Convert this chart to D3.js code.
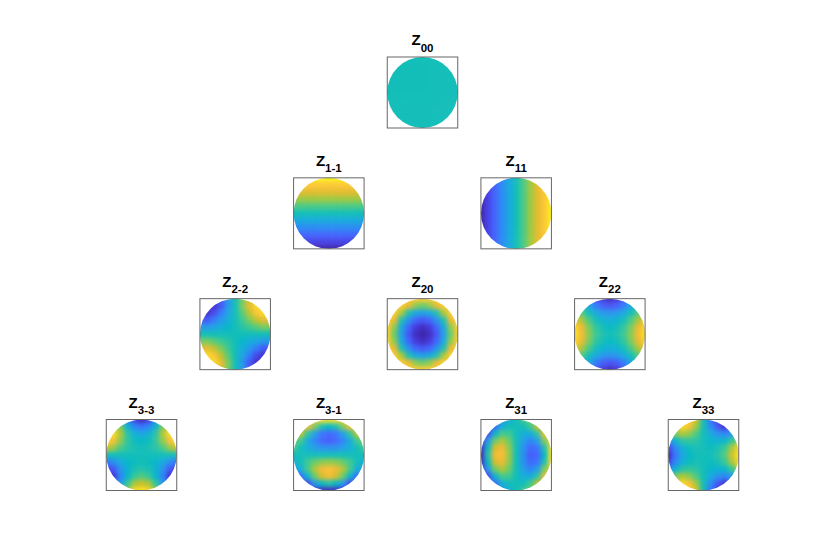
<!DOCTYPE html>
<html>
<head>
<meta charset="utf-8">
<script src="https://cdn.jsdelivr.net/npm/d3@7"></script>
<style>
  html, body { margin: 0; padding: 0; background: #fff; }
  svg { display: block; }
</style>
</head>
<body>
<div id="chart"></div>
<script>
// grid values read off each disc, 0 = bottom of colormap, 100 = top
// rows run top to bottom, columns left to right
const z00 = [
  [50,50,50,50,50,50,50,50,50,50,50],
  [50,50,50,50,50,50,50,50,50,50,50],
  [50,50,50,50,50,50,50,50,50,50,50],
  [50,50,50,50,50,50,50,50,50,50,50],
  [50,50,50,50,50,50,50,50,50,50,50],
  [50,50,50,50,50,50,50,50,50,50,50],
  [50,50,50,50,50,50,50,50,50,50,50],
  [50,50,50,50,50,50,50,50,50,50,50],
  [50,50,50,50,50,50,50,50,50,50,50],
  [50,50,50,50,50,50,50,50,50,50,50],
  [50,50,50,50,50,50,50,50,50,50,50]
];
const z1m1 = [
  [98,98,98,98,98,98,98,98,98,98,98],
  [87,87,87,87,87,87,87,87,87,87,87],
  [79,79,79,79,79,79,79,79,79,79,79],
  [70,70,70,70,70,70,70,70,70,70,70],
  [60,60,60,60,60,60,60,60,60,60,60],
  [50,50,50,50,50,50,50,50,50,50,50],
  [40,40,40,40,40,40,40,40,40,40,40],
  [30,30,30,30,30,30,30,30,30,30,30],
  [20,20,20,20,20,20,20,20,20,20,20],
  [10,10,10,10,10,10,10,10,10,10,10],
  [0,0,0,0,0,0,0,0,0,0,0]
];
const z11 = [
  [0,10,20,30,40,50,60,70,79,87,98],
  [0,10,20,30,40,50,60,70,79,87,98],
  [0,10,20,30,40,50,60,70,79,87,98],
  [0,10,20,30,40,50,60,70,79,87,98],
  [0,10,20,30,40,50,60,70,79,87,98],
  [0,10,20,30,40,50,60,70,79,87,98],
  [0,10,20,30,40,50,60,70,79,87,98],
  [0,10,20,30,40,50,60,70,79,87,98],
  [0,10,20,30,40,50,60,70,79,87,98],
  [0,10,20,30,40,50,60,70,79,87,98],
  [0,10,20,30,40,50,60,70,79,87,98]
];
const z2m2 = [
  [3,4,9,17,35,50,65,78,89,93,94],
  [4,3,5,16,34,50,66,80,92,94,93],
  [9,5,12,26,38,50,62,74,86,92,89],
  [17,16,26,34,42,50,58,66,74,80,78],
  [35,34,38,42,46,50,54,58,62,66,65],
  [50,50,50,50,50,50,50,50,50,50,50],
  [65,66,62,58,54,50,46,42,38,34,35],
  [78,80,74,66,58,50,42,34,26,16,17],
  [89,92,86,74,62,50,38,26,12,5,9],
  [93,94,92,80,66,50,34,16,5,3,4],
  [94,93,89,78,65,50,35,17,9,4,3]
];
const z20 = [
  [88,88,88,88,88,88,88,88,88,88,88],
  [88,88,88,80,68,64,68,80,88,88,88],
  [88,88,72,52,40,36,40,52,72,88,88],
  [88,80,52,32,20,16,20,32,52,80,88],
  [88,68,40,20,8,4,8,20,40,68,88],
  [88,64,36,16,4,0,4,16,36,64,88],
  [88,68,40,20,8,4,8,20,40,68,88],
  [88,80,52,32,20,16,20,32,52,80,88],
  [88,88,72,52,40,36,40,52,72,88,88],
  [88,88,88,80,68,64,68,80,88,88,88],
  [88,88,88,88,88,88,88,88,88,88,88]
];
const z22 = [
  [50,41,31,18,7,3,7,18,31,41,50],
  [59,50,39,26,18,15,18,26,39,50,59],
  [71,61,50,40,34,32,34,40,50,61,71],
  [82,71,60,50,44,42,44,50,60,71,82],
  [90,80,66,56,50,48,50,56,66,80,90],
  [94,82,68,58,52,50,52,58,68,82,94],
  [90,80,66,56,50,48,50,56,66,80,90],
  [82,71,60,50,44,42,44,50,60,71,82],
  [71,61,50,40,34,32,34,40,50,61,71],
  [59,50,39,26,18,15,18,26,39,50,59],
  [50,41,31,18,7,3,7,18,31,41,50]
];
const z3m3 = [
  [80,68,52,30,10,3,10,30,52,68,80],
  [88,80,66,44,29,24,29,44,66,80,88],
  [94,92,72,54,43,39,43,54,72,92,94],
  [90,84,68,56,49,47,49,56,68,84,90],
  [76,69,60,54,51,50,51,54,60,69,76],
  [50,50,50,50,50,50,50,50,50,50,50],
  [24,31,40,46,49,50,49,46,40,31,24],
  [10,16,32,44,51,53,51,44,32,16,10],
  [3,6,28,46,57,61,57,46,28,6,3],
  [10,20,34,56,71,76,71,56,34,20,10],
  [20,32,48,70,90,94,90,70,48,32,20]
];
const z3m1 = [
  [78,81,84,88,92,94,92,88,84,81,78],
  [75,78,82,66,52,47,52,66,82,78,75],
  [71,74,55,36,24,20,24,36,55,74,71],
  [65,58,41,28,20,17,20,28,41,58,65],
  [58,50,42,36,32,31,32,36,42,50,58],
  [50,50,50,50,50,50,50,50,50,50,50],
  [42,50,58,64,68,69,68,64,58,50,42],
  [35,42,59,72,81,84,81,72,59,42,35],
  [29,22,45,64,77,82,77,64,45,22,29],
  [20,17,13,34,48,53,48,34,13,17,20],
  [17,14,10,7,4,3,4,7,10,14,17]
];
const z31 = [
  [17,20,29,35,42,50,58,65,71,75,78],
  [14,17,22,42,50,50,50,58,74,78,81],
  [10,13,45,59,58,50,42,41,55,82,84],
  [7,34,64,72,64,50,36,28,36,66,88],
  [4,48,77,81,68,50,32,20,24,52,92],
  [3,53,82,84,69,50,31,17,20,47,94],
  [4,48,77,81,68,50,32,20,24,52,92],
  [7,34,64,72,64,50,36,28,36,66,88],
  [10,13,45,59,58,50,42,41,55,82,84],
  [14,17,22,42,50,50,50,58,74,78,81],
  [17,20,29,35,42,50,58,65,71,75,78]
];
const z33 = [
  [80,88,94,90,76,50,24,10,3,10,20],
  [68,80,92,84,69,50,31,16,6,20,32],
  [52,66,72,68,60,50,40,32,28,34,48],
  [30,44,54,56,54,50,46,44,46,56,70],
  [10,29,43,49,51,50,49,51,57,71,90],
  [3,24,39,47,50,50,50,53,61,76,94],
  [10,29,43,49,51,50,49,51,57,71,90],
  [30,44,54,56,54,50,46,44,46,56,70],
  [52,66,72,68,60,50,40,32,28,34,48],
  [68,80,92,84,69,50,31,16,6,20,32],
  [80,88,94,90,76,50,24,10,3,10,20]
];

// panel lists: subscript label, radial row, azimuthal column, grid
const panelLabels = ["00", "1-1", "11", "2-2", "20", "22", "3-3", "3-1", "31", "33"];
const panelRows = [0, 1, 1, 2, 2, 2, 3, 3, 3, 3];
const panelCols = [0, -1, 1, -2, 0, 2, -3, -1, 1, 3];
const panelGrids = [z00, z1m1, z11, z2m2, z20, z22, z3m3, z3m1, z31, z33];

const parulaStops = ["#3e26a8", "#4332cb", "#4741e5", "#4852f4", "#4563fd", "#3875fe",
  "#2e87f7", "#2797eb", "#20a5e3", "#12b1d6", "#02bac3", "#24c1ae", "#37c897", "#57cc7a",
  "#81cc59", "#abc739", "#d1bf27", "#f0ba36", "#fec338", "#fad62d", "#f5e924", "#f9fb15"];

const width = 817;
const height = 552;
const boxW = 70.5;
const boxH = 71;

const svg = d3.select("#chart")
    .append("svg")
    .attr("width", width)
    .attr("height", height)
    .style("font-family", "'Liberation Sans', Arial, sans-serif");

const colX = d3.scaleLinear().domain([-3, 3]).range([141.5, 703.5]);
const rowY = d3.scaleLinear().domain([0, 3]).range([57, 419.5]);
const color = d3.scaleLinear()
    .domain(parulaStops.map((d, i) => i * 100 / (parulaStops.length - 1)))
    .range(parulaStops)
    .interpolate(d3.interpolateRgb);

const defs = svg.append("defs");
defs.append("filter")
    .attr("id", "smooth")
    .attr("filterUnits", "userSpaceOnUse")
    .attr("x", 0).attr("y", 0).attr("width", width).attr("height", height)
    .attr("color-interpolation-filters", "sRGB")
    .append("feGaussianBlur")
    .attr("stdDeviation", 2.1);

panelLabels.forEach((label, k) => {
    const cx = colX(panelCols[k]);
    const top = rowY(panelRows[k]);
    const grid = panelGrids[k];
    const n = grid.length;

    // grid nodes sit at -1..1 on the disc
    const gx = d3.scaleLinear().domain([0, n - 1]).range([cx - boxW / 2, cx + boxW / 2]);
    const gy = d3.scaleLinear().domain([0, n - 1]).range([top, top + boxH]);
    const cw = gx(1) - gx(0);
    const ch = gy(1) - gy(0);
    const over = 12; // outer cells run past the disc so the blur doesnt fade its rim

    const cells = grid.flatMap((row, r) => row.map((v, c) => ({ r, c, v })));

    defs.append("clipPath")
        .attr("id", "disc" + k)
        .append("ellipse")
        .attr("cx", cx)
        .attr("cy", top + boxH / 2)
        .attr("rx", boxW / 2)
        .attr("ry", boxH / 2);

    const panel = svg.append("g").attr("class", "panel");

    panel.append("g")
        .attr("clip-path", `url(#disc${k})`)
        .append("g")
        .attr("filter", "url(#smooth)")
        .selectAll("rect")
        .data(cells)
        .join("rect")
        .attr("x", d => gx(d.c) - cw / 2 - (d.c === 0 ? over : 0))
        .attr("y", d => gy(d.r) - ch / 2 - (d.r === 0 ? over : 0))
        .attr("width", d => cw + 0.4 + (d.c === 0 || d.c === n - 1 ? over : 0))
        .attr("height", d => ch + 0.4 + (d.r === 0 || d.r === n - 1 ? over : 0))
        .attr("fill", d => color(d.v));

    panel.append("rect")
        .attr("x", cx - boxW / 2)
        .attr("y", top)
        .attr("width", boxW)
        .attr("height", boxH)
        .attr("fill", "none")
        .attr("stroke", "#666")
        .attr("stroke-width", 1);

    const title = panel.append("text")
        .attr("x", cx)
        .attr("y", top - 12)
        .attr("text-anchor", "middle")
        .attr("font-weight", "bold")
        .attr("fill", "#000")
        .style("font-size", "15px");
    title.append("tspan").text("Z");
    title.append("tspan")
        .attr("dy", 6.5)
        .style("font-size", "11.5px")
        .text(label);
});
</script>
</body>
</html>
